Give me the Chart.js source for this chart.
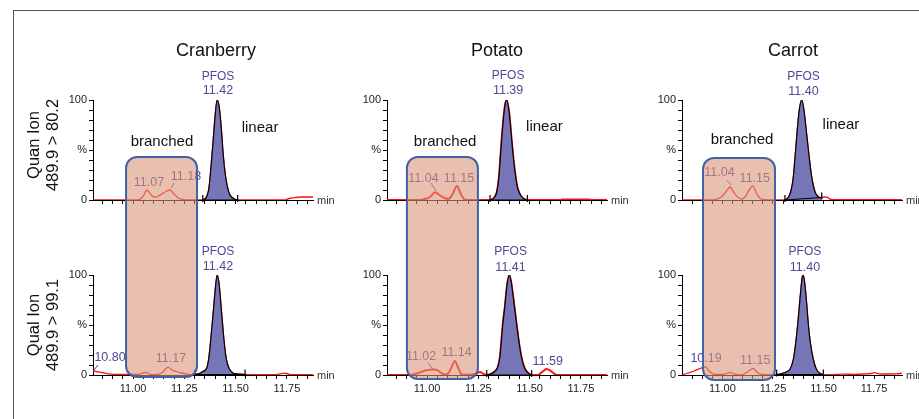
<!DOCTYPE html>
<html>
<head>
<meta charset="utf-8">
<script src="https://cdn.jsdelivr.net/npm/chart.js@4.4.0/dist/chart.umd.min.js"></script>
<style>
body { margin:0; width:919px; height:419px; overflow:hidden; background:#fff; position:relative; font-family:"Liberation Sans", Arial, sans-serif; }
.frame { position:absolute; left:13px; top:10px; width:960px; height:460px; border-left:1.5px solid #555; border-top:1.5px solid #555; }
canvas.panel { position:absolute; }
.title { position:absolute; top:39px; font-size:18px; line-height:22px; transform:translateX(-50%); white-space:nowrap; color:#111; }
.ion { position:absolute; font-size:16.5px; line-height:19px; text-align:center; white-space:nowrap; color:#111; transform:translate(-50%,-50%) rotate(-90deg); }
#overlay { position:absolute; left:0; top:0; pointer-events:none; }
</style>
</head>
<body>
<div class="frame"></div>
<canvas id="overlay" width="919" height="419"></canvas>
<script>
// sample names and ion traces
const samples = ['Cranberry', 'Potato', 'Carrot'];
const ionTitles = [['Quan Ion', '489.9 > 80.2'], ['Qual Ion', '489.9 > 99.1']];

// x ticks (min) and y ticks (%)
const xMinor = [10.85, 10.90, 10.95, 11.00, 11.05, 11.10, 11.15, 11.20, 11.25, 11.30, 11.35, 11.40, 11.45, 11.50, 11.55, 11.60, 11.65, 11.70, 11.75, 11.80, 11.85];
const xMajor = [11.00, 11.25, 11.50, 11.75];
const xMajorLabels = ['11.00', '11.25', '11.50', '11.75'];
const yTicks = [0, 10, 20, 30, 40, 50, 60, 70, 80, 90, 100];
const yTickLabels = ['0', '', '', '', '', '%', '', '', '', '', '100'];
const xMin = [10.805, 10.805, 10.80];
const xMax = [11.877, 11.877, 11.888];

// chromatograms [time, %]
const cranberryQuan = [[10.805,0],[10.90,0],[11.00,0],[11.03,0.3],[11.05,4],[11.068,10],[11.085,6],[11.102,3],[11.12,3.5],[11.14,6],[11.16,8.5],[11.18,10],[11.20,6],[11.22,2],[11.24,0.5],[11.26,0],[11.30,0],[11.34,0],[11.35,1],[11.36,4],[11.37,12],[11.38,33],[11.39,58],[11.40,84],[11.41,100],[11.42,93],[11.43,72],[11.44,44],[11.45,25],[11.46,13],[11.47,6],[11.48,3],[11.49,1.5],[11.50,0.5],[11.51,0],[11.60,0],[11.70,0],[11.74,0],[11.76,1.5],[11.79,2.5],[11.82,3],[11.877,3]];
const cranberryQual = [[10.805,4],[10.82,3.5],[10.85,2.5],[10.88,1.2],[10.91,0.5],[10.95,0.5],[11.00,0.5],[11.03,0.8],[11.05,2.2],[11.062,2.7],[11.075,1.5],[11.09,0.3],[11.12,0.5],[11.145,3],[11.16,6.5],[11.172,7.7],[11.19,5],[11.21,3.5],[11.237,2],[11.26,1],[11.286,0.3],[11.30,0.5],[11.326,1.7],[11.34,3.5],[11.359,6.7],[11.37,18],[11.38,38],[11.39,60],[11.40,84],[11.41,100],[11.42,90],[11.43,66],[11.44,42],[11.45,22],[11.46,11],[11.473,5],[11.489,1.7],[11.50,1.2],[11.52,0.8],[11.546,0.5],[11.60,0.3],[11.70,0.3],[11.715,1.2],[11.731,1.7],[11.75,1.5],[11.77,0.3],[11.82,0.3],[11.877,0.3]];
const potatoQuan = [[10.805,0],[10.90,0],[10.966,0],[10.99,1],[11.015,3],[11.039,7.7],[11.06,5],[11.085,2],[11.104,1],[11.125,6],[11.145,14],[11.165,6],[11.185,0.3],[11.22,0],[11.28,0],[11.307,0],[11.32,1],[11.33,3],[11.34,8],[11.35,22],[11.36,50],[11.37,76],[11.38,95],[11.388,100],[11.40,88],[11.41,66],[11.417,50],[11.43,26],[11.44,13],[11.45,7],[11.46,3.5],[11.47,1.5],[11.48,0.5],[11.489,0],[11.55,0],[11.65,0],[11.66,0.5],[11.79,0.5],[11.80,0],[11.877,0]];
const potatoQual = [[10.805,0],[10.917,0],[10.94,1],[10.966,2.7],[10.99,4.5],[11.015,5.3],[11.035,5.5],[11.049,5],[11.07,2],[11.088,0.2],[11.105,2],[11.12,8],[11.136,14],[11.152,7],[11.169,0.5],[11.20,0.2],[11.235,1],[11.258,3],[11.275,1.2],[11.291,0],[11.31,1],[11.33,3.5],[11.345,8],[11.355,18],[11.369,50],[11.38,70],[11.39,90],[11.401,100],[11.41,93],[11.42,78],[11.437,50],[11.45,30],[11.46,18],[11.47,10],[11.48,5],[11.49,2.5],[11.50,1],[11.51,0],[11.541,0],[11.56,3],[11.583,6],[11.60,4.5],[11.615,2],[11.632,0],[11.70,0],[11.877,0]];
const carrotQuan = [[10.80,0],[10.955,0],[10.98,1.5],[11.00,4],[11.02,9],[11.037,13],[11.055,8],[11.075,3],[11.095,1],[11.115,4],[11.135,11],[11.15,14],[11.17,6],[11.194,0.5],[11.23,0],[11.309,0],[11.32,1.5],[11.33,4],[11.34,10],[11.35,22],[11.362,50],[11.37,70],[11.38,90],[11.392,100],[11.40,94],[11.41,78],[11.425,50],[11.44,25],[11.45,14],[11.46,7],[11.47,4],[11.48,2.5],[11.491,2.5],[11.505,3],[11.52,2.7],[11.532,0.8],[11.55,0.3],[11.70,0.3],[11.888,0.3]];
const carrotQual = [[10.80,0],[10.83,2],[10.86,4],[10.89,6.5],[10.904,7.7],[10.917,8],[10.93,5],[10.947,1.7],[10.97,0.5],[11.00,0.5],[11.02,1.5],[11.037,2.7],[11.06,1],[11.08,0.2],[11.095,0.2],[11.12,2.5],[11.14,5.5],[11.153,6.7],[11.17,3],[11.194,0.5],[11.23,0.3],[11.268,0.5],[11.29,1.2],[11.318,3.3],[11.335,6],[11.35,15],[11.36,28],[11.372,50],[11.38,68],[11.39,90],[11.397,100],[11.405,95],[11.415,75],[11.425,50],[11.435,32],[11.45,15],[11.46,8],[11.47,4],[11.48,2],[11.49,1],[11.499,0.5],[11.52,0.3],[11.56,0.5],[11.60,0.8],[11.65,0.7],[11.70,1],[11.735,1.5],[11.754,2.3],[11.775,1.2],[11.82,1],[11.86,1.2],[11.888,1.7]];

// PFOS integration windows
const quanWindows = [[11.33, 11.51], [11.305, 11.49], [11.309, 11.491]];
const qualWindows = [[11.29, 11.546], [11.29, 11.51], [11.268, 11.499]];

// peak labels [time, %, text]
const quanLabels = [
  [[11.414,123,'PFOS'],[11.414,109,'11.42'],[11.078,17,'11.07'],[11.258,23,'11.18']],
  [[11.395,124,'PFOS'],[11.395,109,'11.39'],[10.983,21,'11.04'],[11.156,21,'11.15']],
  [[11.401,123,'PFOS'],[11.401,108,'11.40'],[10.985,27,'11.04'],[11.16,21,'11.15']]
];
const qualLabels = [
  [[11.414,123,'PFOS'],[11.414,108,'11.42'],[10.888,17,'10.80'],[11.185,16,'11.17']],
  [[11.407,123,'PFOS'],[11.407,107,'11.41'],[10.971,18,'11.02'],[11.144,22,'11.14'],[11.588,13,'11.59']],
  [[11.408,123,'PFOS'],[11.408,107,'11.40'],[10.919,16,'10.19'],[11.162,14,'11.15']]
];
// label leader lines [t1, y1, t2, y2]
const quanLeaders = [[[11.185,12,11.20,17]], [[11.019,17,11.044,9]], [[11.021,20,11.042,15]]];
const qualLeaders = [[[10.811,5,10.828,10]], [[11.006,12,11.031,5]], []];
// isomer notes
const branchedPos = [[11.141,58],[11.088,58],[11.097,60]];
const linearPos = [[11.619,72],[11.572,73],[11.586,75]];
// branched region box [t start, t end], top in Quan %, bottom in Qual %
const boxTimes = [[10.966, 11.312], [10.902, 11.248], [10.904, 11.26]];
const boxTop = [43, 43, 42];
const boxBottom = [-2, -4, -5];

const traces = [[cranberryQuan, potatoQuan, carrotQuan], [cranberryQual, potatoQual, carrotQual]];
const windows = [quanWindows, qualWindows];
const labels = [quanLabels, qualLabels];
const leaders = [quanLeaders, qualLeaders];

// panel placement on the page
const colLeft = [93, 387, 682];
const colRight = [313, 607, 902];
const rowTop = [100, 275];
const rowBottom = [200, 375];
const lineWidths = [1.3, 2, 1.3];

const FONT = '"Liberation Sans", Arial, sans-serif';
const BLUE = '#4a4a96';
let charts = [[], []];
let canvasPos = [[], []];

function draw_panel(row, col) {
  const L = colLeft[col], R = colRight[col], T = rowTop[row], B = rowBottom[row];
  const cv = document.createElement('canvas');
  cv.className = 'panel';
  cv.width = R - L + 70;
  cv.height = B - T + 70;
  cv.style.left = (L - 40) + 'px';
  cv.style.top = (T - 45) + 'px';
  document.body.insertBefore(cv, document.getElementById('overlay'));
  canvasPos[row][col] = [L - 40, T - 45];

  const trace = traces[row][col];
  const win = windows[row][col];
  const peak = trace.filter(p => p[0] >= win[0] - 1e-9 && p[0] <= win[1] + 1e-9);

  const marks = {
    id: 'marks',
    afterDatasetsDraw(chart) {
      const ctx = chart.ctx, xs = chart.scales.x, ys = chart.scales.y;
      ctx.save();
      // integration baseline and end markers
      const p0 = peak[0], p1 = peak[peak.length - 1];
      ctx.strokeStyle = '#000';
      ctx.lineWidth = 1.2;
      ctx.beginPath();
      ctx.moveTo(xs.getPixelForValue(p0[0]), ys.getPixelForValue(p0[1]));
      ctx.lineTo(xs.getPixelForValue(p1[0]), ys.getPixelForValue(p1[1]));
      [p0, p1].forEach(p => {
        const px = xs.getPixelForValue(p[0]), py = ys.getPixelForValue(p[1]);
        ctx.moveTo(px, py + 2);
        ctx.lineTo(px, py - 5);
      });
      ctx.stroke();

      // peak labels
      ctx.fillStyle = BLUE;
      ctx.textAlign = 'center';
      ctx.textBaseline = 'middle';
      labels[row][col].forEach(lb => {
        ctx.font = (lb[2] === 'PFOS' ? '12px ' : '12.5px ') + FONT;
        ctx.fillText(lb[2], xs.getPixelForValue(lb[0]), ys.getPixelForValue(lb[1]));
      });
      ctx.strokeStyle = BLUE;
      ctx.lineWidth = 1;
      leaders[row][col].forEach(ln => {
        ctx.beginPath();
        ctx.moveTo(xs.getPixelForValue(ln[0]), ys.getPixelForValue(ln[1]));
        ctx.lineTo(xs.getPixelForValue(ln[2]), ys.getPixelForValue(ln[3]));
        ctx.stroke();
      });

      if (row === 0) {
        ctx.fillStyle = '#111';
        ctx.font = '15px ' + FONT;
        ctx.fillText('branched', xs.getPixelForValue(branchedPos[col][0]), ys.getPixelForValue(branchedPos[col][1]));
        ctx.fillText('linear', xs.getPixelForValue(linearPos[col][0]), ys.getPixelForValue(linearPos[col][1]));
      }

      // axis unit
      ctx.fillStyle = '#333';
      ctx.font = '11px ' + FONT;
      ctx.textAlign = 'left';
      ctx.fillText('min', chart.chartArea.right + 4, chart.chartArea.bottom + 1);
      ctx.restore();
    }
  };

  const chart = new Chart(cv.getContext('2d'), {
    type: 'line',
    data: {
      datasets: [
        {
          data: peak,
          fill: 'origin',
          backgroundColor: '#7575b8',
          borderColor: '#000',
          borderWidth: 1.2,
          pointRadius: 0,
          cubicInterpolationMode: 'monotone'
        },
        {
          data: trace,
          fill: false,
          borderColor: '#ff1010',
          borderWidth: lineWidths[col],
          pointRadius: 0,
          cubicInterpolationMode: 'monotone'
        }
      ]
    },
    options: {
      responsive: false,
      maintainAspectRatio: false,
      animation: false,
      events: [],
      layout: { padding: { left: 0, right: 30, top: 45, bottom: 0 } },
      plugins: { legend: { display: false }, tooltip: { enabled: false } },
      scales: {
        x: {
          type: 'linear',
          min: xMin[col],
          max: xMax[col],
          afterBuildTicks: s => { s.ticks = xMinor.map(v => ({ value: v })); },
          afterFit: s => { s.height = 25; },
          border: { display: true, color: '#000', width: 1 },
          grid: { drawOnChartArea: false, drawTicks: true, tickLength: 4, color: '#000' },
          ticks: {
            autoSkip: false,
            maxRotation: 0,
            padding: 3,
            color: '#222',
            font: { family: FONT, size: 11 },
            callback: function (value) {
              if (row === 0) return '';
              const i = xMajor.findIndex(m => Math.abs(m - value) < 1e-6);
              return i < 0 ? '' : xMajorLabels[i];
            }
          }
        },
        y: {
          min: 0,
          max: 100,
          afterBuildTicks: s => { s.ticks = yTicks.map(v => ({ value: v })); },
          afterFit: s => { s.width = 40; },
          border: { display: true, color: '#000', width: 1 },
          grid: { drawOnChartArea: false, drawTicks: true, tickLength: 4, color: '#000' },
          ticks: {
            autoSkip: false,
            padding: 2,
            color: '#222',
            font: { family: FONT, size: 11 },
            callback: function (value) {
              const i = yTicks.indexOf(value);
              return i < 0 ? '' : yTickLabels[i];
            }
          }
        }
      }
    },
    plugins: [marks]
  });
  charts[row][col] = chart;
}

function draw_boxes() {
  const ctx = document.getElementById('overlay').getContext('2d');
  for (let c = 0; c < samples.length; c++) {
    const top = charts[0][c], bot = charts[1][c];
    const x1 = canvasPos[0][c][0] + top.scales.x.getPixelForValue(boxTimes[c][0]);
    const x2 = canvasPos[0][c][0] + top.scales.x.getPixelForValue(boxTimes[c][1]);
    const y1 = canvasPos[0][c][1] + top.scales.y.getPixelForValue(boxTop[c]);
    const y2 = canvasPos[1][c][1] + bot.scales.y.getPixelForValue(boxBottom[c]);
    const r = 11;
    ctx.beginPath();
    ctx.moveTo(x1 + r, y1);
    ctx.arcTo(x2, y1, x2, y2, r);
    ctx.arcTo(x2, y2, x1, y2, r);
    ctx.arcTo(x1, y2, x1, y1, r);
    ctx.arcTo(x1, y1, x2, y1, r);
    ctx.closePath();
    ctx.fillStyle = 'rgba(218,148,122,0.6)';
    ctx.fill();
    ctx.strokeStyle = '#4063a8';
    ctx.lineWidth = 2;
    ctx.stroke();
  }
}

function add_text() {
  const titleX = [216, 497, 793];
  samples.forEach((s, i) => {
    const d = document.createElement('div');
    d.className = 'title';
    d.style.left = titleX[i] + 'px';
    d.textContent = s;
    document.body.appendChild(d);
  });
  const ionY = [145, 325];
  ionTitles.forEach((t, i) => {
    const d = document.createElement('div');
    d.className = 'ion';
    d.style.left = '43px';
    d.style.top = ionY[i] + 'px';
    d.innerHTML = t[0] + '<br>' + t[1].replace('>', '&gt;');
    document.body.appendChild(d);
  });
}

for (let r = 0; r < 2; r++) {
  for (let c = 0; c < 3; c++) {
    draw_panel(r, c);
  }
}
draw_boxes();
add_text();
</script>
</body>
</html>
